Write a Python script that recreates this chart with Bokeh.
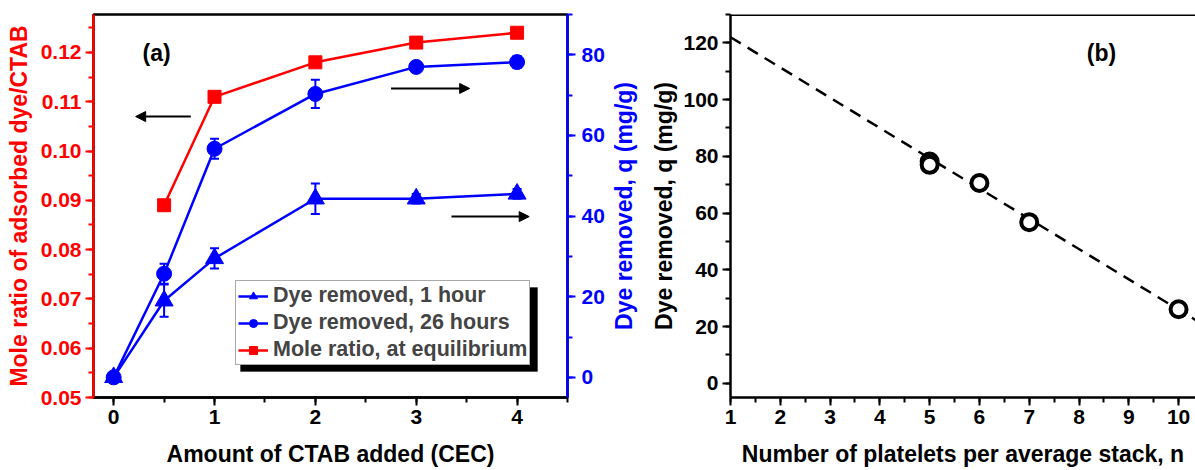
import math
from bokeh.plotting import figure
from bokeh.layouts import row
from bokeh.models import (Range1d, LinearAxis, SingleIntervalTicker, PrintfTickFormatter,
                          FixedTicker, ColumnDataSource, Whisker, TeeHead, Legend,
                          LegendItem, Label, Arrow, NormalHead, BoxAnnotation, Span)
from bokeh.embed import file_html
from bokeh.resources import INLINE

# ---------------- data ----------------
x_ctab = [0, 0.5, 1, 2, 3, 4]
q_1h = [0, 19.0, 29.5, 44.3, 44.3, 45.5]
q_1h_err = [1.0, 4.0, 2.5, 3.8, 1.2, 1.2]
q_26h = [0, 25.7, 56.7, 70.3, 77.0, 78.2]
q_26h_err = [1.0, 2.5, 2.5, 3.5, 1.0, 1.5]
x_ratio = [0.5, 1, 2, 3, 4]
mole_ratio = [0.089, 0.111, 0.118, 0.122, 0.124]

n_platelets = [5, 5, 6, 7, 10]
q_stack = [78.2, 77.0, 70.6, 56.8, 26.1]
fit_n = [1, 11]
fit_q = [122.0, 15.3]

FONT = "Liberation Sans"
RED = "#FF0000"
BLUE = "#0000FF"
TICK_FS = "21px"
LAB_FS = "23px"


def style_axis(ax, color, interval, minor, fmt=None):
    ax.ticker = SingleIntervalTicker(interval=interval, num_minor_ticks=minor)
    if fmt:
        ax.formatter = PrintfTickFormatter(format=fmt)
    ax.axis_line_color = color
    ax.axis_line_width = 2.5
    ax.major_tick_line_color = color
    ax.minor_tick_line_color = color
    ax.major_tick_line_width = 2
    ax.minor_tick_line_width = 2
    ax.major_tick_out = 8
    ax.major_tick_in = 0
    ax.minor_tick_out = 5
    ax.minor_tick_in = 0
    ax.major_label_text_color = color
    ax.major_label_text_font = FONT
    ax.major_label_text_font_style = "bold"
    ax.major_label_text_font_size = TICK_FS
    ax.axis_label_text_color = color
    ax.axis_label_text_font = FONT
    ax.axis_label_text_font_style = "bold"
    ax.axis_label_text_font_size = LAB_FS


# ---------------- panel (a) ----------------
WA = 607
FL, FR, FT, FB = 93, 567, 14, 397  # frame edges (pixels) of panel (a)
pa = figure(width=WA, height=470, output_backend="svg", toolbar_location=None,
            x_range=Range1d(-0.2, 4.5), y_range=Range1d(0.05, 0.1277),
            min_border_left=FL, min_border_right=WA - FR, min_border_top=FT,
            min_border_bottom=470 - FB)
pa.extra_y_ranges = {"q": Range1d(-5, 90)}
pa.grid.visible = False
pa.outline_line_color = "black"
pa.outline_line_width = 2.5
pa.background_fill_color = "white"
pa.border_fill_color = "white"

style_axis(pa.xaxis[0], "black", 1, 2)
pa.xaxis[0].axis_label = "Amount of CTAB added (CEC)"
pa.xaxis[0].major_label_standoff = 4
pa.xaxis[0].axis_label_standoff = 14

style_axis(pa.yaxis[0], RED, 0.01, 2, "%.2f")
pa.yaxis[0].axis_label = "Mole ratio of adsorbed dye/CTAB"
pa.yaxis[0].major_label_standoff = 4
pa.yaxis[0].axis_label_standoff = 6

ax_r = LinearAxis(y_range_name="q")
style_axis(ax_r, BLUE, 20, 2)
ax_r.major_label_standoff = 6
pa.add_layout(ax_r, "right")

src1 = ColumnDataSource(dict(x=x_ctab, y=q_1h,
                             lo=[a - b for a, b in zip(q_1h, q_1h_err)],
                             hi=[a + b for a, b in zip(q_1h, q_1h_err)]))
src26 = ColumnDataSource(dict(x=x_ctab, y=q_26h,
                              lo=[a - b for a, b in zip(q_26h, q_26h_err)],
                              hi=[a + b for a, b in zip(q_26h, q_26h_err)]))
srcr = ColumnDataSource(dict(x=x_ratio, y=mole_ratio))

for s in (src1, src26):
    pa.add_layout(Whisker(source=s, base="x", lower="lo", upper="hi", y_range_name="q",
                          line_color=BLUE, line_width=2,
                          upper_head=TeeHead(size=9, line_color=BLUE, line_width=2),
                          lower_head=TeeHead(size=9, line_color=BLUE, line_width=2)))

l1 = pa.line("x", "y", source=src1, y_range_name="q", line_color=BLUE, line_width=2.5)
m1 = pa.scatter("x", "y", source=src1, y_range_name="q", marker="triangle", size=18,
                fill_color=BLUE, line_color=BLUE)
l26 = pa.line("x", "y", source=src26, y_range_name="q", line_color=BLUE, line_width=2.5)
m26 = pa.scatter("x", "y", source=src26, y_range_name="q", marker="circle", size=15,
                 fill_color=BLUE, line_color=BLUE)
lr = pa.line("x", "y", source=srcr, line_color=RED, line_width=2.5)
mr = pa.scatter("x", "y", source=srcr, marker="square", size=13,
                fill_color=RED, line_color=RED)

# arrows pointing to the axes
head = dict(size=10, fill_color="black", line_color="black")
pa.add_layout(Arrow(end=NormalHead(**head), x_start=0.765, y_start=0.107,
                    x_end=0.218, y_end=0.107, line_width=2, line_color="black"))
pa.add_layout(Arrow(end=NormalHead(**head), x_start=2.75, y_start=0.1127,
                    x_end=3.53, y_end=0.1127, line_width=2, line_color="black"))
pa.add_layout(Arrow(end=NormalHead(**head), x_start=3.35, y_start=0.0867,
                    x_end=4.12, y_end=0.0867, line_width=2, line_color="black"))

pa.add_layout(Label(x=49, y=345, x_units="screen", y_units="screen", text="(a)",
                    text_font=FONT, text_font_style="bold", text_font_size="23px",
                    text_baseline="middle", text_color="black"))

# legend shadow + legend
pa.add_layout(BoxAnnotation(left=147, right=444, bottom=26, top=110,
                            left_units="screen", right_units="screen",
                            bottom_units="screen", top_units="screen",
                            fill_color="black", fill_alpha=1, line_color="black",
                            level="annotation"))
leg = Legend(items=[LegendItem(label="Dye removed, 1 hour", renderers=[l1, m1]),
                    LegendItem(label="Dye removed, 26 hours", renderers=[l26, m26]),
                    LegendItem(label="Mole ratio, at equilibrium", renderers=[lr, mr])],
             location=(142, 32), label_text_font=FONT, label_text_font_style="bold",
             label_text_font_size="21.5px", glyph_width=30, glyph_height=20,
             label_standoff=5, padding=2, spacing=2, margin=0, label_height=25,
             border_line_color="#555555", border_line_width=1,
             background_fill_color="white", background_fill_alpha=1)
pa.add_layout(leg)

# ---------------- panel (b) ----------------
WB = 1195 - WA
pb = figure(width=WB, height=470, output_backend="svg", toolbar_location=None,
            x_range=Range1d(1, 10.34), y_range=Range1d(-5, 130),
            min_border_left=729 - WA, min_border_right=0, min_border_top=FT,
            min_border_bottom=470 - FB)
pb.grid.visible = False
pb.outline_line_color = None
pb.background_fill_color = "white"
pb.border_fill_color = "white"

style_axis(pb.xaxis[0], "black", 1, 2)
pb.xaxis[0].axis_label = "Number of platelets per average stack, n"
pb.xaxis[0].major_label_standoff = 4
pb.xaxis[0].axis_label_standoff = 14
style_axis(pb.yaxis[0], "black", 20, 2)
pb.yaxis[0].axis_label = "Dye removed, q (mg/g)"
pb.yaxis[0].major_label_standoff = 4
pb.yaxis[0].axis_label_standoff = 3

# title of panel (a)'s right (blue) axis, carried by a bare axis so it reads bottom-to-top
ax_title_q = LinearAxis(axis_label="Dye removed, q (mg/g)", ticker=FixedTicker(ticks=[]))
ax_title_q.axis_line_color = None
ax_title_q.major_tick_line_color = None
ax_title_q.minor_tick_line_color = None
ax_title_q.major_tick_out = 0
ax_title_q.minor_tick_out = 0
ax_title_q.major_label_standoff = 0
ax_title_q.axis_label_standoff = 12
ax_title_q.axis_label_text_color = BLUE
ax_title_q.axis_label_text_font = FONT
ax_title_q.axis_label_text_font_style = "bold"
ax_title_q.axis_label_text_font_size = LAB_FS
pb.add_layout(ax_title_q, "left")

pb.add_layout(Span(location=130, dimension="width", line_color="black", line_width=3))

pb.line(fit_n, fit_q, line_color="black", line_width=2.5, line_dash="12 8")
pb.scatter(n_platelets, q_stack, marker="circle", size=16, fill_color="white",
           line_color="black", line_width=4)
pb.add_layout(Label(x=371, y=345, x_units="screen", y_units="screen", text="(b)",
                    text_font=FONT, text_font_style="bold", text_font_size="23px",
                    text_baseline="middle", text_align="center", text_color="black"))

layout = row(pa, pb, spacing=0)
open("out.html", "w").write(file_html(layout, INLINE))
